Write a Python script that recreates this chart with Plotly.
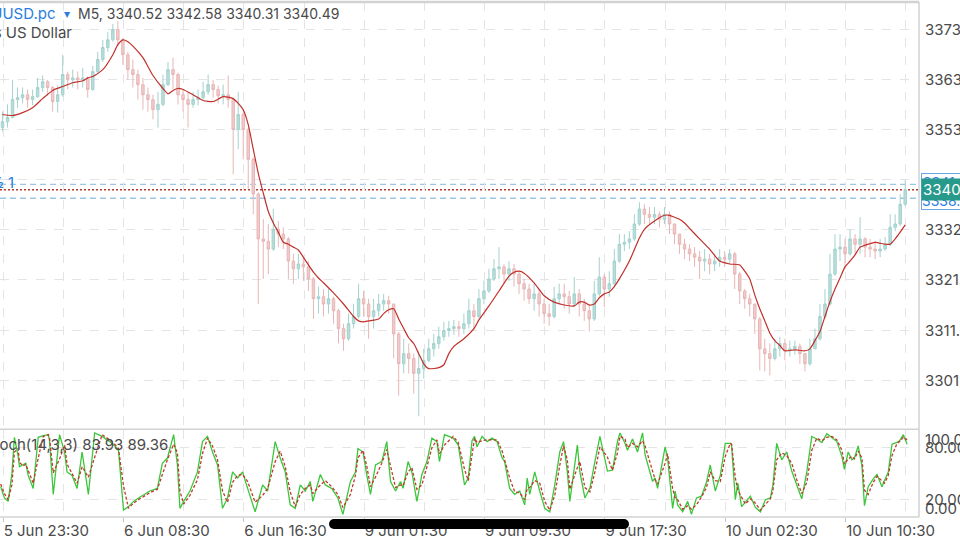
import plotly.graph_objects as go

# ---------------- data ----------------
tick_labels = ["5 Jun 23:30", "6 Jun 08:30", "6 Jun 16:30", "9 Jun 01:30",
               "9 Jun 09:30", "9 Jun 17:30", "10 Jun 02:30", "10 Jun 10:30"]
tick_bars = [2, 98, 194, 290, 386, 482, 578, 674]          # M5 bar index of labelled ticks
grid_bars = [50, 146, 242, 338, 434, 530, 626, 722]        # intermediate grid lines
price_ticks = [3301.00, 3311.40, 3321.80, 3332.20, 3342.60, 3353.00, 3363.40, 3373.80]

# 20-minute candles (4 x M5 bars each)
open_ = [3353.4,3354.6,3355.5,3359.2,3359.6,3360.2,3359.2,3359.8,3361.7,3362.9,
         3361.7,3358.8,3360.2,3364.4,3363.3,3363.7,3363.3,3363.7,3361.3,3365.0,
         3367.5,3370.0,3371.6,3373.7,3371.6,3368.5,3365.4,3364.4,3362.3,3360.2,
         3359.2,3357.1,3358.2,3362.3,3365.4,3364.4,3360.2,3359.2,3358.2,3359.2,
         3359.6,3360.8,3362.3,3361.3,3360.0,3360.2,3359.2,3353.0,3356.1,3353.0,
         3346.8,3339.6,3330.3,3329.8,3328.2,3332.3,3331.3,3330.3,3325.7,3324.1,
         3325.1,3324.5,3322.0,3317.9,3318.3,3316.8,3317.9,3315.4,3311.7,3309.6,
         3312.7,3314.2,3317.9,3316.8,3314.2,3315.4,3316.8,3317.5,3316.8,3310.6,
         3304.4,3306.5,3305.5,3302.4,3303.4,3305.1,3307.5,3308.6,3310.0,3311.3,
         3311.7,3312.1,3311.7,3312.7,3315.4,3314.2,3317.9,3319.5,3322.0,3324.1,
         3324.5,3323.0,3324.1,3323.0,3321.0,3319.9,3317.9,3318.9,3316.8,3314.8,
         3314.2,3317.9,3318.9,3318.3,3316.8,3318.9,3316.8,3315.4,3313.7,3318.9,
         3322.4,3319.9,3321.0,3325.7,3329.2,3329.6,3330.3,3333.4,3336.5,3335.4,
         3334.8,3335.4,3334.4,3335.4,3333.4,3331.3,3329.2,3328.2,3327.2,3326.5,
         3325.7,3326.1,3325.1,3325.7,3326.5,3326.1,3327.2,3323.0,3319.5,3317.9,
         3316.8,3313.7,3307.5,3306.5,3305.5,3307.5,3308.6,3307.1,3307.5,3308.0,
         3306.5,3304.4,3307.5,3309.6,3314.2,3316.8,3323.0,3328.2,3328.6,3327.2,
         3330.3,3329.2,3330.3,3328.6,3328.2,3327.8,3328.2,3329.2,3332.7,3333.4,
         3337.5]
high = [3356.7,3358.2,3363.3,3361.7,3361.7,3361.3,3361.3,3363.7,3364.2,3363.3,
        3362.0,3362.1,3368.5,3365.0,3365.4,3365.0,3365.8,3364.0,3366.2,3369.1,
        3371.6,3373.2,3374.9,3375.5,3372.0,3369.1,3367.5,3365.4,3363.7,3361.7,
        3360.2,3360.8,3364.4,3367.0,3367.9,3364.8,3361.3,3360.8,3360.8,3361.3,
        3362.9,3364.4,3363.3,3362.1,3362.3,3364.2,3359.6,3360.8,3357.1,3353.4,
        3347.2,3340.0,3334.4,3333.4,3336.5,3334.0,3332.7,3330.7,3327.2,3327.2,
        3326.5,3325.7,3322.4,3320.4,3319.9,3319.9,3318.3,3315.8,3312.7,3314.8,
        3316.8,3321.0,3319.5,3317.9,3317.9,3318.9,3318.9,3318.5,3316.8,3311.0,
        3309.6,3308.6,3306.5,3306.5,3307.5,3309.6,3310.6,3312.1,3313.1,3313.3,
        3313.5,3313.3,3314.8,3317.9,3316.8,3319.9,3321.6,3324.1,3326.1,3328.6,
        3325.1,3325.7,3325.1,3323.6,3322.0,3321.0,3321.0,3319.9,3317.9,3316.8,
        3320.4,3321.0,3321.0,3319.5,3322.4,3319.9,3317.9,3316.8,3321.6,3326.5,
        3323.0,3323.6,3328.2,3331.3,3331.3,3331.9,3335.4,3337.9,3337.5,3336.9,
        3336.9,3336.0,3336.9,3336.0,3333.4,3331.3,3330.3,3329.2,3328.6,3327.8,
        3328.2,3327.2,3327.2,3328.2,3327.8,3328.2,3327.6,3323.4,3319.9,3318.9,
        3316.8,3314.1,3309.6,3308.6,3309.6,3310.0,3309.6,3309.2,3309.2,3308.6,
        3306.5,3309.6,3311.7,3316.8,3319.9,3327.2,3331.3,3331.3,3330.3,3332.3,
        3331.3,3334.8,3330.7,3330.3,3329.9,3330.3,3330.7,3335.4,3335.4,3339.6,
        3342.58]
low = [3352.6,3353.4,3355.3,3357.5,3358.4,3357.5,3358.0,3359.6,3360.8,3360.0,
       3356.7,3356.5,3359.8,3361.3,3361.7,3361.3,3361.7,3359.6,3361.0,3364.6,
       3367.0,3369.1,3371.2,3370.3,3366.4,3363.3,3361.7,3359.2,3357.1,3356.7,
       3355.1,3353.4,3357.8,3362.0,3361.3,3358.2,3356.7,3353.4,3357.5,3358.0,
       3359.2,3360.2,3359.6,3358.4,3358.2,3357.5,3343.7,3348.9,3346.8,3340.6,
       3335.4,3316.8,3322.0,3323.0,3327.8,3328.6,3328.2,3322.0,3321.0,3322.0,
       3321.6,3319.5,3313.7,3314.8,3314.2,3314.8,3312.7,3308.6,3307.1,3309.2,
       3311.7,3313.8,3314.2,3309.6,3311.7,3314.2,3315.4,3314.8,3305.5,3297.8,
       3302.4,3302.4,3298.2,3293.5,3301.3,3304.7,3305.9,3307.5,3309.2,3310.0,
       3310.4,3310.0,3310.6,3311.7,3311.3,3313.8,3316.8,3319.1,3321.6,3322.0,
       3321.0,3321.6,3320.4,3318.9,3317.5,3316.8,3315.4,3314.2,3312.7,3312.3,
       3313.8,3316.8,3315.8,3314.8,3316.2,3314.2,3313.3,3311.1,3313.3,3318.5,
       3316.2,3318.3,3320.6,3325.3,3327.8,3328.2,3329.9,3333.0,3333.4,3333.4,
       3333.4,3332.7,3333.4,3331.3,3329.2,3327.2,3326.1,3325.7,3324.5,3322.0,
       3323.6,3323.0,3323.6,3324.5,3324.5,3325.1,3319.9,3316.8,3315.8,3314.2,
       3310.6,3303.0,3302.8,3302.0,3305.1,3305.9,3305.1,3305.9,3306.3,3304.4,
       3302.8,3304.0,3307.5,3309.2,3313.7,3316.4,3322.6,3325.7,3324.1,3326.8,
       3327.2,3327.2,3326.5,3326.5,3326.1,3326.5,3327.8,3328.8,3331.9,3333.0,
       3337.1]
close = [3354.6,3355.5,3359.2,3359.6,3360.2,3359.2,3359.8,3361.7,3362.9,3361.7,
         3358.8,3360.2,3364.4,3363.3,3363.7,3363.3,3363.7,3361.3,3365.0,3367.5,
         3370.0,3371.6,3373.7,3371.6,3368.5,3365.4,3364.4,3362.3,3360.2,3359.2,
         3357.1,3358.2,3362.3,3365.4,3364.4,3360.2,3359.2,3358.2,3359.2,3359.6,
         3360.8,3362.3,3361.3,3360.0,3360.2,3359.2,3353.0,3356.1,3353.0,3346.8,
         3339.6,3330.3,3329.8,3328.2,3332.3,3331.3,3330.3,3325.7,3324.1,3325.1,
         3324.5,3322.0,3317.9,3318.3,3316.8,3317.9,3315.4,3311.7,3309.6,3312.7,
         3314.2,3317.9,3316.8,3314.2,3315.4,3316.8,3317.5,3316.8,3310.6,3304.4,
         3306.5,3305.5,3302.4,3303.4,3305.1,3307.5,3308.6,3310.0,3311.3,3311.7,
         3312.1,3311.7,3312.7,3315.4,3314.2,3317.9,3319.5,3322.0,3324.1,3324.5,
         3323.0,3324.1,3323.0,3321.0,3319.9,3317.9,3318.9,3316.8,3314.8,3314.2,
         3317.9,3318.9,3318.3,3316.8,3318.9,3316.8,3315.4,3313.7,3318.9,3322.4,
         3319.9,3321.0,3325.7,3329.2,3329.6,3330.3,3333.4,3336.5,3335.4,3334.8,
         3335.4,3334.4,3335.4,3333.4,3331.3,3329.2,3328.2,3327.2,3326.5,3325.7,
         3326.1,3325.1,3325.7,3326.5,3326.1,3327.2,3323.0,3319.5,3317.9,3316.8,
         3313.7,3307.5,3306.5,3305.5,3307.5,3308.6,3307.1,3307.5,3308.0,3306.5,
         3304.4,3307.5,3309.6,3314.2,3316.8,3323.0,3328.2,3328.6,3327.2,3330.3,
         3329.2,3330.3,3328.6,3328.2,3327.8,3328.2,3329.2,3332.7,3333.4,3337.5,
         3340.49]

# moving average (candle index, value)
ma_k = [0,2,4,6,8,10,12,14,16,17,18,20,22,23,24,25,26,28,30,32,
        33,34,35,36,38,40,42,44,46,48,49,50,51,52,53,54,55,56,57,58,
        59,60,61,62,63,64,66,68,70,71,72,73,75,76,77,78,79,80,81,82,
        83,84,85,87,88,89,90,92,94,95,97,99,101,102,103,104,106,108,110,112,
        114,115,116,117,118,119,120,121,122,123,125,127,128,130,132,133,134,135,136,137,
        139,141,143,145,147,148,149,150,151,152,153,154,155,156,158,160,161,162,163,164,
        165,166,167,168,169,170,171,172,174,176,177,178,179,180]
ma_v = [3356.1,3355.9,3356.5,3357.5,3359.4,3361.1,3361.9,3362.7,3363.1,3363.7,
        3364.0,3365.4,3368.5,3370.6,3371.6,3371.2,3370.3,3367.9,3364.2,3361.5,
        3360.4,3361.1,3361.5,3361.3,3360.2,3359.0,3358.8,3359.8,3359.4,3357.1,
        3354.0,3348.9,3343.9,3339.8,3336.0,3333.6,3331.7,3329.6,3329.2,3328.6,
        3328.0,3326.5,3324.9,3323.4,3322.2,3321.2,3319.1,3316.8,3314.2,3313.3,
        3313.1,3313.3,3313.7,3314.8,3315.6,3315.8,3313.7,3311.7,3309.8,3308.6,
        3306.5,3304.4,3303.4,3303.6,3304.2,3306.5,3308.0,3309.6,3311.7,3313.5,
        3316.4,3319.5,3322.6,3323.4,3323.6,3323.2,3321.2,3318.5,3317.2,3316.6,
        3316.4,3317.2,3317.2,3316.6,3316.8,3318.1,3318.9,3319.3,3320.4,3322.0,
        3325.7,3330.5,3332.3,3334.0,3335.2,3335.2,3334.8,3334.4,3333.6,3332.5,
        3330.3,3328.2,3325.7,3325.1,3324.9,3323.6,3322.0,3318.7,3315.8,3313.3,
        3310.8,3309.2,3308.2,3307.1,3307.3,3307.1,3307.5,3309.2,3311.1,3314.2,
        3317.3,3319.9,3322.2,3324.5,3325.7,3327.0,3328.6,3329.0,3329.6,3329.2,
        3329.2,3330.3,3331.7,3333.2]

# stochastic (M5 bar index, %K, %D)
stoch_bar = [0,3,6,9,11,14,15,18,20,22, 26,30,34,38,39,42,47,51,53,57,
             61,65,70,75,81,87,91,94,98,102, 106,110,114,119,125,129,133,138,141,143,
             146,151,157,161,165,169,173,177,181,185, 189,193,197,203,209,213,219,223,227,231,
             235,239,243,247,249,255,259,264,269,273, 279,283,285,289,292,295,299,304,308,311,
             315,319,321,325,328,332,336,340,344,348, 350,354,361,365,370,373,376,378,380,384,
             388,392,396,400,402,406,410,414,418,420, 422,426,430,434,438,442,446,449,452,454,
             460,462,466,470,474,478,484,488,492,494, 498,500,504,508,512,514,520,522,524,530,
             532,536,538,540,544,548,551,555,559,563, 566,570,574,578,582,583,586,588,591,594,
             598,602,606,610,614,616,619,623,627,631, 635,639,643,647,651,655,659,663,667,671,
             673,676,679,681,684,687,689,692,696,699, 703,705,708,711,715,717,720,723]
stoch_k = [35,22,18,50,92,70,58,60,62,48, 33,92,94,95,88,26,95,75,52,48,
           33,75,26,97,93,87,82,77,8,12, 18,22,26,30,33,62,68,95,60,10,
           18,30,52,87,93,75,60,10,22,52, 45,52,33,6,37,30,87,68,52,14,
           10,37,30,41,18,49,37,33,22,3, 41,52,79,75,49,26,60,64,87,41,
           30,41,33,64,52,18,49,64,91,87, 64,95,91,83,37,45,88,93,81,93,
           87,91,87,68,64,33,26,30,14,45, 26,52,30,10,6,37,75,87,52,18,
           83,52,22,33,64,93,53,54,87,97, 85,77,90,75,97,72,41,45,33,81,
           68,10,30,14,6,18,3,22,24,40, 60,30,48,85,85,83,20,39,12,17,
           24,11,6,20,22,37,85,66,75,53, 37,21,52,93,90,86,96,91,87,70,
           55,75,66,68,82,59,13,35,44,49, 35,42,52,84,86,88,95,84]
stoch_d = [38,27,20,37,75,79,63,59,61,54, 39,68,93,95,91,51,67,83,61,50,
           39,58,46,69,95,89,84,79,36,10, 16,20,24,28,32,50,66,84,74,30,
           15,25,43,73,91,82,66,30,17,40, 48,49,41,17,25,33,64,76,58,29,
           12,26,33,37,27,37,42,35,26,11, 26,48,68,77,59,35,46,62,78,59,
           34,37,36,52,57,32,37,58,80,89, 73,83,93,86,55,42,71,91,86,88,
           89,89,89,76,66,45,29,28,20,33, 34,42,39,18,8,25,60,82,66,32,
           57,64,34,29,52,81,69,54,74,93, 90,80,85,81,88,82,53,43,38,62,
           73,33,22,20,9,13,9,14,23,34, 52,42,41,70,85,84,45,31,23,15,
           21,16,8,14,21,31,66,74,71,62, 43,27,40,77,91,88,92,93,89,77,
           61,67,70,67,76,68,31,26,40,47, 41,39,48,71,85,87,92,89]
stoch_label_vals = [100, 80, 20, 0]

last_price = 3340.49
upper_level = 3341.63
lower_level = 3338.73

# ---------------- geometry helpers (pixel -> paper) ----------------
W, H = 960, 540
ML, MR, MT, MB = 0, 41, 2, 21
PW, PH = W - ML - MR, H - MT - MB


def px_x(px):
    return (px - ML) / PW


def px_y(py):
    return 1 - (py - MT) / PH


FONT = "Inter, 'Liberation Sans', Arial, sans-serif"
FS = 15
TXT = "#4a4a4a"
GRID = "#e4e4e4"
FRAME = "#d2d2d2"
BLUE = "#2b7de0"

candle_x = [4 * k + 1.5 for k in range(len(close))]
ma_x = [4 * k + 1.5 for k in ma_k]

fig = go.Figure()
fig.add_trace(go.Candlestick(
    x=candle_x, open=open_, high=high, low=low, close=close,
    increasing=dict(line=dict(color="#a3d2ce", width=1), fillcolor="#b8dedb"),
    decreasing=dict(line=dict(color="#e8b6b6", width=1), fillcolor="#f0cbcb"),
    xaxis="x", yaxis="y", hoverinfo="skip", showlegend=False))
fig.add_trace(go.Scatter(
    x=ma_x, y=ma_v, mode="lines", line=dict(color="#c0302a", width=1.2, shape="spline", smoothing=0.6),
    xaxis="x", yaxis="y", hoverinfo="skip", showlegend=False))
fig.add_trace(go.Scatter(
    x=stoch_bar, y=stoch_k, mode="lines", line=dict(color="#3cc63c", width=1.3),
    xaxis="x2", yaxis="y2", hoverinfo="skip", showlegend=False))
fig.add_trace(go.Scatter(
    x=stoch_bar, y=stoch_d, mode="lines", line=dict(color="#c0392b", width=1.3, dash="3px,2px"),
    xaxis="x2", yaxis="y2", hoverinfo="skip", showlegend=False))

xr = [-0.5, 732.5]
common_x = dict(range=xr, tickmode="array", tickvals=tick_bars, showgrid=True, gridcolor=GRID,
                griddash="dash", gridwidth=1, zeroline=False, showline=False, fixedrange=True,
                minor=dict(tickmode="array", tickvals=grid_bars, showgrid=True, gridcolor=GRID,
                           griddash="dash", gridwidth=1))
main_bottom = px_y(430)
stoch_top = px_y(432)

fig.update_layout(
    width=W, height=H, margin=dict(l=ML, r=MR, t=MT, b=MB),
    paper_bgcolor="white", plot_bgcolor="white", showlegend=False,
    font=dict(family=FONT, size=FS, color=TXT),
    xaxis=dict(domain=[0, 1], anchor="y", showticklabels=False, rangeslider=dict(visible=False), **common_x),
    xaxis2=dict(domain=[0, 1], anchor="y2", showticklabels=True, ticktext=tick_labels,
                ticklabelposition="outside right", ticks="outside", ticklen=4, tickcolor="#c4c4c4",
                tickfont=dict(family=FONT, size=FS, color=TXT), **common_x),
    yaxis=dict(domain=[main_bottom, 1], range=[3291.01, 3379.44], tickmode="array", tickvals=price_ticks,
               showticklabels=False, showgrid=True, gridcolor=GRID, griddash="dash", zeroline=False,
               fixedrange=True),
    yaxis2=dict(domain=[0, stoch_top], range=[0, 100], tickmode="array", tickvals=[20, 80],
                showticklabels=False, showgrid=True, gridcolor=GRID, griddash="dash", zeroline=False,
                fixedrange=True),
)

shapes = []
# level lines
for lvl in (upper_level, lower_level):
    shapes.append(dict(type="line", xref="paper", yref="y", x0=0, x1=1, y0=lvl, y1=lvl,
                       line=dict(color="#9fc6e3", width=1.3, dash="6px,4px"), layer="between"))
shapes.append(dict(type="line", xref="paper", yref="y", x0=0, x1=1, y0=last_price, y1=last_price,
                   line=dict(color="#b3392f", width=1.6, dash="2px,2px"), layer="between"))
# frame
shapes += [
    dict(type="line", xref="paper", yref="paper", x0=0, x1=1, y0=1, y1=1, line=dict(color=FRAME, width=2.5), layer="above"),
    dict(type="line", xref="paper", yref="paper", x0=1, x1=1, y0=0, y1=1, line=dict(color=FRAME, width=1.5), layer="above"),
    dict(type="line", xref="paper", yref="paper", x0=0, x1=1, y0=px_y(431), y1=px_y(431), line=dict(color=FRAME, width=1.5), layer="above"),
    dict(type="line", xref="paper", yref="paper", x0=0, x1=1, y0=0, y1=0, line=dict(color=FRAME, width=1.5), layer="above"),
]
# iOS home indicator bar
shapes += [
    dict(type="rect", xref="paper", yref="paper", x0=px_x(334), x1=px_x(624), y0=px_y(521), y1=px_y(531),
         fillcolor="black", line=dict(width=0), layer="above"),
    dict(type="circle", xref="paper", yref="paper", x0=px_x(329), x1=px_x(339), y0=px_y(521), y1=px_y(531),
         fillcolor="black", line=dict(width=0), layer="above"),
    dict(type="circle", xref="paper", yref="paper", x0=px_x(619), x1=px_x(629), y0=px_y(521), y1=px_y(531),
         fillcolor="black", line=dict(width=0), layer="above"),
]
fig.update_layout(shapes=shapes)

ann = []
# right price labels
for v in price_ticks:
    ann.append(dict(xref="paper", yref="y", x=px_x(923), y=v, xanchor="left", yanchor="middle",
                    text=f"{v:.2f}", showarrow=False, font=dict(family=FONT, size=FS, color=TXT)))
# stochastic labels (positions inside the pane as drawn by the app)
for v, yy in zip(stoch_label_vals, [89.7, 80.5, 20.1, 10.3]):
    ann.append(dict(xref="paper", yref="y2", x=px_x(923), y=yy, xanchor="left", yanchor="middle",
                    text=f"{v:.2f}", showarrow=False, font=dict(family=FONT, size=FS, color=TXT)))
# order level boxes + current price box
ann.append(dict(xref="paper", yref="y", x=px_x(921), y=(upper_level + lower_level) / 2, xanchor="left",
                yanchor="middle", text=f"{upper_level:.2f}<br>{lower_level:.2f}", showarrow=False,
                font=dict(family=FONT, size=FS - 1, color=BLUE), bgcolor="white", bordercolor="#6aa6e4",
                borderwidth=1, borderpad=0))
ann.append(dict(xref="paper", yref="y", x=px_x(921), y=last_price, xanchor="left", yanchor="middle",
                text=f"{last_price:.2f}", showarrow=False, font=dict(family=FONT, size=FS, color="white"),
                bgcolor="#279a8c", borderpad=1))
# left-edge order tags (cut off)
ann.append(dict(xref="paper", yref="y", x=px_x(16), y=last_price + 1.6, xanchor="right", yanchor="middle",
                text="½ 1", showarrow=False, font=dict(family=FONT, size=FS, color=BLUE)))
# header
ann += [
    dict(xref="paper", yref="paper", x=px_x(57), y=px_y(14), xanchor="right", yanchor="middle",
         text="XAUUSD.pc", showarrow=False, font=dict(family=FONT, size=FS, color=BLUE)),
    dict(xref="paper", yref="paper", x=px_x(67), y=px_y(14), xanchor="center", yanchor="middle",
         text="▾", showarrow=False, font=dict(family=FONT, size=12, color=BLUE)),
    dict(xref="paper", yref="paper", x=px_x(76), y=px_y(14), xanchor="left", yanchor="middle",
         text="M5, 3340.52 3342.58 3340.31 3340.49", showarrow=False, font=dict(family=FONT, size=14, color=TXT)),
    dict(xref="paper", yref="paper", x=px_x(74), y=px_y(33), xanchor="right", yanchor="middle",
         text="Gold vs US Dollar", showarrow=False, font=dict(family=FONT, size=FS, color=TXT)),
    dict(xref="paper", yref="paper", x=px_x(170), y=px_y(446), xanchor="right", yanchor="middle",
         text=f"Stoch(14,3,3) {83.93:.2f} {89.36:.2f}", showarrow=False, font=dict(family=FONT, size=FS, color=TXT)),
]
fig.update_layout(annotations=ann)

fig.write_html("out.html", config={"displayModeBar": False},
               post_script="document.body.style.margin='0';")
